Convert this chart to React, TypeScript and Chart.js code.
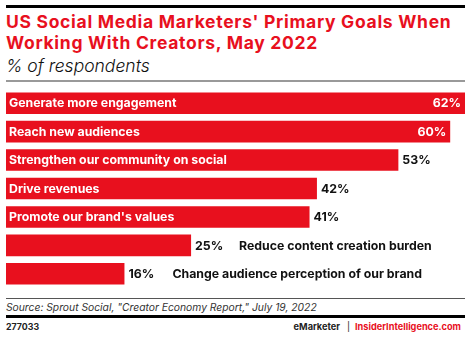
import React, { useEffect, useRef } from "react";
import { Chart, registerables } from "chart.js";

Chart.register(...registerables);

const categories = [
  "Generate more engagement",
  "Reach new audiences",
  "Strengthen our community on social",
  "Drive revenues",
  "Promote our brand's values",
  "Reduce content creation burden",
  "Change audience perception of our brand",
];
const values = [62, 60, 53, 42, 41, 25, 16];
// which category labels sit inside the bar (true) or after the value (false)
const labelInside = [true, true, true, true, true, false, false];
// which values sit inside the bar end
const valueInside = [true, true, false, false, false, false, false];

const RED = "#e8101e";
const FONT = "Inter, 'Noto Sans', sans-serif";

const labelPlugin = {
  id: "barLabels",
  afterDatasetsDraw(chart: any) {
    const ctx = chart.ctx;
    const meta = chart.getDatasetMeta(0);
    ctx.save();
    ctx.textBaseline = "middle";
    meta.data.forEach((bar: any, i: number) => {
      const y = bar.y;
      const left = bar.base;
      const right = bar.x;
      const valText = values[i] + "%";
      ctx.font = `bold 12.3px ${FONT}`;
      if (labelInside[i]) {
        ctx.fillStyle = "#ffffff";
        ctx.textAlign = "left";
        ctx.fillText(categories[i], left + 3, y + 0.5);
      }
      if (valueInside[i]) {
        ctx.fillStyle = "#ffffff";
        ctx.textAlign = "right";
        ctx.fillText(valText, right - 4, y + 0.5);
      } else {
        ctx.fillStyle = "#111111";
        ctx.textAlign = "left";
        ctx.fillText(valText, right + 4, y + 0.5);
      }
      if (!labelInside[i]) {
        ctx.fillStyle = "#111111";
        ctx.textAlign = "left";
        ctx.fillText(categories[i], right + 48, y + 0.5);
      }
    });
    ctx.restore();
  },
};

function BarChart() {
  const ref = useRef<HTMLCanvasElement>(null);
  useEffect(() => {
    if (!ref.current) return;
    const chart = new Chart(ref.current, {
      type: "bar",
      data: {
        labels: categories,
        datasets: [
          {
            data: values,
            backgroundColor: RED,
            borderWidth: 0,
            barPercentage: 1,
            categoryPercentage: 0.76,
          },
        ],
      },
      options: {
        indexAxis: "y",
        animation: false,
        responsive: false,
        maintainAspectRatio: false,
        layout: { padding: 0 },
        plugins: {
          legend: { display: false },
          tooltip: { enabled: false },
          title: { display: false },
        },
        scales: {
          x: { display: false, min: 0, max: 62 },
          y: { display: false },
        },
      },
      plugins: [labelPlugin],
    });
    return () => chart.destroy();
  }, []);
  return (
    <canvas
      ref={ref}
      width={459}
      height={199}
      style={{ position: "absolute", left: 6, top: 89, width: 459, height: 199 }}
    />
  );
}

export default function App() {
  useEffect(() => {
    document.body.style.margin = "0";
  }, []);
  return (
    <div
      style={{
        position: "relative",
        width: 470,
        height: 337,
        background: "#fff",
        fontFamily: FONT,
        overflow: "hidden",
      }}
    >
      <div style={{ position: "absolute", left: 6, top: 5, width: 459, height: 3, background: "#000" }} />
      <div
        style={{
          position: "absolute",
          left: 6,
          top: 12,
          width: 464,
          color: RED,
          fontWeight: 700,
          fontSize: 17.5,
          lineHeight: "20.5px",
          letterSpacing: 0.7,
          whiteSpace: "nowrap",
        }}
      >
        US Social Media Marketers' Primary Goals When
        <br />
        Working With Creators, May 2022
      </div>
      <div
        style={{
          position: "absolute",
          left: 6,
          top: 56,
          fontStyle: "italic",
          fontWeight: 300,
          fontSize: 17.5,
          lineHeight: "20px",
          color: "#111",
        }}
      >
        % of respondents
      </div>
      <div style={{ position: "absolute", left: 6, top: 80, width: 459, height: 2, background: "#999" }} />
      <BarChart />
      <div style={{ position: "absolute", left: 6, top: 298, width: 459, height: 1, background: "#555" }} />
      <div
        style={{
          position: "absolute",
          left: 6,
          top: 301,
          fontStyle: "italic",
          fontSize: 10.3,
          lineHeight: "13px",
          color: "#333",
          whiteSpace: "nowrap",
        }}
      >
        Source: Sprout Social, "Creator Economy Report," July 19, 2022
      </div>
      <div style={{ position: "absolute", left: 6, top: 315, width: 459, height: 3, background: "#000" }} />
      <div
        style={{
          position: "absolute",
          left: 6,
          top: 321,
          fontSize: 8.8,
          fontWeight: 700,
          lineHeight: "12px",
          color: "#222",
        }}
      >
        277033
      </div>
      <div
        style={{
          position: "absolute",
          right: 9,
          top: 321,
          fontSize: 9.2,
          fontWeight: 700,
          lineHeight: "12px",
          color: "#222",
          whiteSpace: "nowrap",
        }}
      >
        eMarketer<span style={{ fontWeight: 400, margin: "0 5px 0 7px" }}>|</span>
        <span style={{ color: RED }}>InsiderIntelligence.com</span>
      </div>
    </div>
  );
}
